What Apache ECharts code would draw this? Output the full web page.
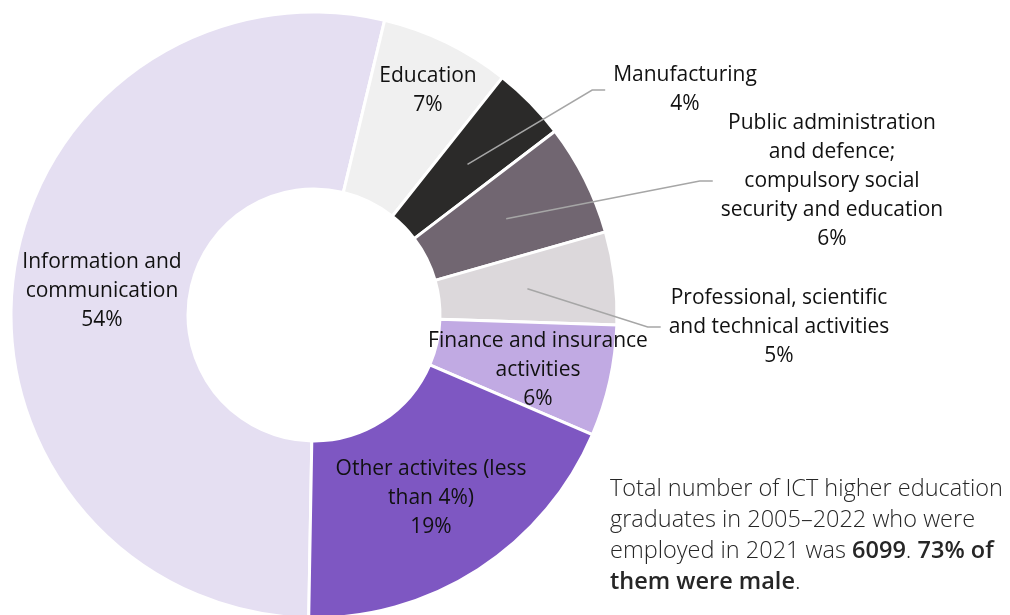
<!DOCTYPE html>
<html>
<head>
<meta charset="utf-8">
<title>ICT graduates by sector of employment</title>
<script src="https://cdn.jsdelivr.net/npm/echarts@6/dist/echarts.min.js"></script>
<style>
  html, body { margin: 0; padding: 0; background: #ffffff; }
  #chart { width: 1010px; height: 615px; }
</style>
</head>
<body>
<div id="chart"></div>
<script>
// Sectors of employment (2021) of ICT higher education graduates 2005–2022
const categories = [
  'Information and\ncommunication',
  'Education',
  'Manufacturing',
  'Public administration\nand defence;\ncompulsory social\nsecurity and education',
  'Professional, scientific\nand technical activities',
  'Finance and insurance\nactivities',
  'Other activites (less\nthan 4%)'
];
// share of graduates, %
const shares = [54, 7, 4, 6, 5, 6, 19];

const palette = ['#E5DFF2', '#F0F0F0', '#2B2A29', '#716671', '#DCD8DB', '#C1AAE3', '#7E57C2'];

// slices whose labels sit outside the ring, joined by leader lines
const outsideLabelled = [2, 3, 4];
// label centres for the outside labels and for the inside labels
const outsideLabelPos = { 2: [685, 90], 3: [832, 181], 4: [779, 327] };
const insideLabelPos = { 0: [102, 291], 1: [428, 91], 5: [538, 370], 6: [431, 498] };

const FONT = 'Open Sans';
const CENTER = [314, 315];
const START = 269;

const labelText = p => p.name + '\n' + p.value + '%';

const chart = echarts.init(document.getElementById('chart'), null, { renderer: 'canvas' });

chart.setOption({
  backgroundColor: '#ffffff',
  animation: false,
  series: [
    {
      // the ring itself, with the labels that sit inside it
      type: 'pie',
      center: CENTER,
      radius: [126, 303],
      startAngle: START,
      clockwise: true,
      avoidLabelOverlap: false,
      silent: true,
      itemStyle: { borderColor: '#ffffff', borderWidth: 3 },
      label: {
        position: 'inside',
        formatter: labelText,
        color: '#111111',
        fontFamily: FONT,
        fontSize: 21,
        lineHeight: 29
      },
      labelLine: { show: false },
      labelLayout: p => {
        const pos = insideLabelPos[p.dataIndex];
        return pos ? { x: pos[0], y: pos[1] } : {};
      },
      data: categories.map((name, i) => ({
        name,
        value: shares[i],
        itemStyle: { color: palette[i] },
        label: { show: outsideLabelled.indexOf(i) < 0 }
      }))
    },
    {
      // transparent copy of the ring ending mid-way through it, so that
      // the leader lines of the outside labels start inside each slice
      type: 'pie',
      center: CENTER,
      radius: [0, 215],
      startAngle: START,
      clockwise: true,
      avoidLabelOverlap: false,
      silent: true,
      z: 3,
      itemStyle: { color: 'rgba(0,0,0,0)', borderWidth: 0 },
      label: {
        position: 'outside',
        formatter: labelText,
        color: '#111111',
        fontFamily: FONT,
        fontSize: 21,
        lineHeight: 29,
        padding: [0, 8]
      },
      labelLine: {
        show: true,
        length: 40,
        length2: 13,
        lineStyle: { color: '#A6A6A6', width: 1.5 }
      },
      labelLayout: p => {
        const pos = outsideLabelPos[p.dataIndex];
        return pos ? { x: pos[0], y: pos[1], align: 'center', verticalAlign: 'middle' } : {};
      },
      data: categories.map((name, i) => ({
        name,
        value: shares[i],
        label: { show: outsideLabelled.indexOf(i) >= 0 },
        labelLine: { show: outsideLabelled.indexOf(i) >= 0 }
      }))
    }
  ],
  graphic: [
    {
      type: 'text',
      left: 610,
      top: 474,
      silent: true,
      style: {
        text: '{n|Total number of ICT higher education}\n' +
              '{n|graduates in 2005–2022 who were}\n' +
              '{n|employed in 2021 was }{b|6099}{n|. }{b|73% of}\n' +
              '{b|them were male}{n|.}',
        fontFamily: FONT,
        fontSize: 23.5,
        lineHeight: 31,
        fill: '#262626',
        rich: {
          n: { fontFamily: FONT, fontSize: 23.5, lineHeight: 31, fontWeight: 300, color: '#262626' },
          b: { fontFamily: FONT, fontSize: 23.5, lineHeight: 31, fontWeight: 600, color: '#000000' }
        }
      }
    }
  ]
});
</script>
</body>
</html>
